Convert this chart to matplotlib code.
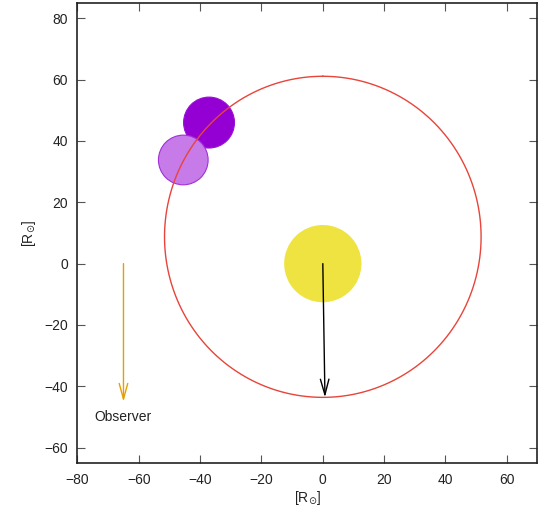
import numpy as np
import matplotlib.pyplot as plt
from matplotlib.patches import Circle

plt.rcParams['font.family'] = ['Liberation Sans', 'DejaVu Sans']

# star at the origin, companions, orbit (star at focus)
star_xy = (0.0, 0.0)
star_r = 12.6
comp_xy = [(-37.1, 46.0), (-45.5, 33.8)]
comp_r = [8.3, 8.1]
orbit_a = 52.35
orbit_e = 0.167
periastron = (0.7, -43.6)
observer_start = (-65.0, 0.0)
observer_end = (-65.0, -45.0)

fig = plt.figure(figsize=(5.42, 5.11), dpi=100)
ax = fig.add_axes([0.142, 0.094, 0.8506, 0.9002])

# orbit ellipse, major axis along y, focus at origin
t = np.linspace(0, 2 * np.pi, 400)
b = orbit_a * np.sqrt(1 - orbit_e ** 2)
ox = b * np.sin(t)
oy = orbit_a * orbit_e + orbit_a * np.cos(t)

ax.add_patch(Circle(star_xy, star_r, facecolor='#efe342', edgecolor='none', zorder=1))
ax.add_patch(Circle(comp_xy[0], comp_r[0], facecolor='#9400d3', edgecolor='#9a10d6', lw=0.8, zorder=2))
ax.add_patch(Circle(comp_xy[1], comp_r[1], facecolor='#c67be8', edgecolor='#a030d8', lw=0.8, zorder=2))
ax.plot(ox, oy, color='#e8443a', lw=1.0, zorder=5)

head = '->,head_width=0.22,head_length=0.8'
ax.annotate('', xy=periastron, xytext=star_xy,
            arrowprops=dict(arrowstyle=head, color='black', lw=1.0,
                            shrinkA=0, shrinkB=0, mutation_scale=14), zorder=4)
ax.annotate('', xy=observer_end, xytext=observer_start,
            arrowprops=dict(arrowstyle=head, color='#e69f00', lw=1.0,
                            shrinkA=0, shrinkB=0, mutation_scale=14), zorder=4)
ax.text(-65, -50, 'Observer', ha='center', va='center', fontsize=10, color='#222222')

ax.set_xlim(-80, 70)
ax.set_ylim(-65, 85)
ax.set_aspect('equal')
ax.set_xticks(np.arange(-80, 61, 20))
ax.set_yticks(np.arange(-60, 81, 20))
ax.tick_params(direction='in', top=True, right=True, length=6, width=0.8,
               labelsize=10, pad=7, color='#555555', labelcolor='#222222')
for s in ax.spines.values():
    s.set_linewidth(1.2)
    s.set_color('#222222')
ax.set_xlabel(r'[R$_{\odot}$]', fontsize=10, labelpad=2, color='#222222')
ax.set_ylabel(r'[R$_{\odot}$]', fontsize=10, labelpad=4, color='#222222')

fig.savefig('out.png', dpi=100)
